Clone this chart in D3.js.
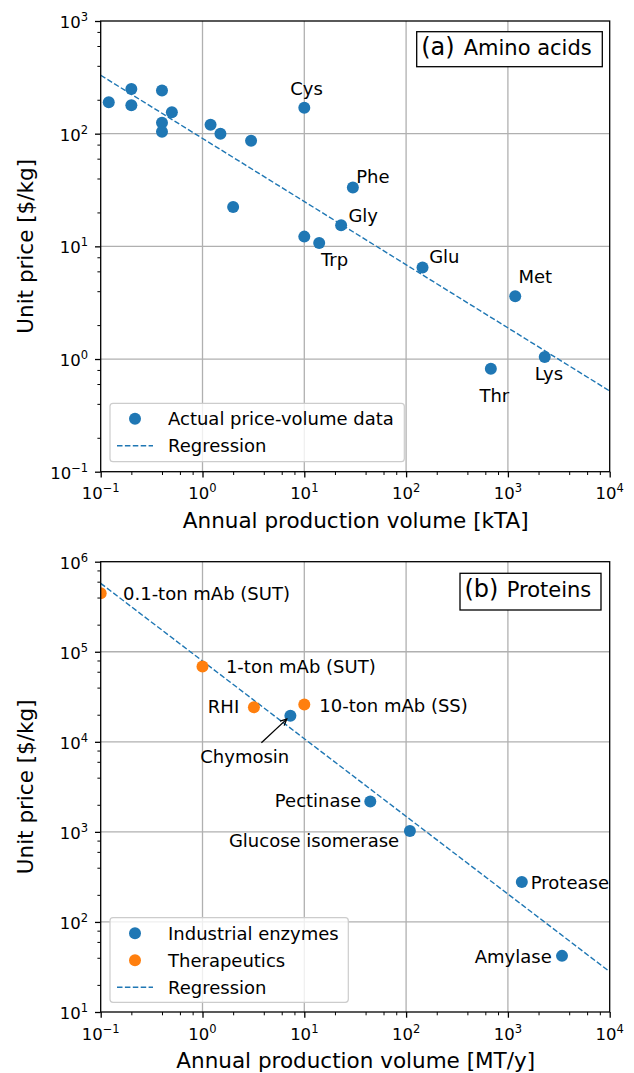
<!DOCTYPE html>
<meta charset="utf-8">
<title>Unit price vs annual production volume</title>
<style>
body { margin: 0; background: #fff; }
svg { font-family: 'DejaVu Sans', sans-serif; }
.grid line { stroke: #b0b0b0; stroke-width: 1.3px; }
.tick line { stroke: #000; }
.lbl { font-size: 18px; fill: #000; }
.ticklbl { font-size: 16.5px; fill: #000; }
.axlbl { font-size: 21.5px; fill: #000; }
</style>
<svg width="634" height="1073"></svg>
<script src="https://d3js.org/d3.v7.min.js"></script>
<script>

// ---- panel (a): amino acids, volume in kTA, price in $/kg
var aminoNames  = ["", "", "", "", "", "", "", "", "", "", "", "",
                   "Cys", "Trp", "Gly", "Phe", "Glu", "Met", "Lys", "Thr"];
var aminoVolume = [0.12, 0.2, 0.2, 0.4, 0.4, 0.4, 0.5, 1.2, 1.5, 3, 2, 10,
                   10, 14, 23, 30, 145, 1180, 2300, 680];
var aminoPrice  = [190, 249, 179, 242, 125, 104, 155, 120, 100, 86.5, 22.4, 12.2,
                   170, 10.7, 15.4, 33.3, 6.5, 3.6, 1.04, 0.82];
var aminoRegVolume = [0.1, 1e4];
var aminoRegPrice  = [330, 0.52];

// ---- panel (b): proteins, volume in MT/y, price in $/kg
var enzymeNames  = ["Chymosin", "Pectinase", "Glucose isomerase", "Protease", "Amylase"];
var enzymeVolume = [7.3, 44.5, 109, 1370, 3400];
var enzymePrice  = [19500, 2170, 1020, 277, 42];
var therapNames  = ["0.1-ton mAb (SUT)", "1-ton mAb (SUT)", "RHI", "10-ton mAb (SS)"];
var therapVolume = [0.1, 1, 3.2, 10];
var therapPrice  = [446000, 68400, 24200, 25900];
var proteinRegVolume = [0.1, 1e4];
var proteinRegPrice  = [575000, 28];

// tick exponents
var xExps  = [-1, 0, 1, 2, 3, 4];
var yExpsA = [-1, 0, 1, 2, 3];
var yExpsB = [1, 2, 3, 4, 5, 6];
var minorSubs = [2, 4, 6, 8];

// label offsets from the marker centre: [dx, dy, anchor]
var labelOffsets = {
  "Cys": [-14, -12.7, "start"], "Phe": [3.3, -4.3, "start"], "Gly": [7.3, -3.3, "start"],
  "Trp": [1.7, 23, "start"], "Glu": [6.6, -4, "start"], "Met": [3.3, -13, "start"],
  "Lys": [-10, 23.3, "start"], "Thr": [-11.4, 33.4, "start"],
  "0.1-ton mAb (SUT)": [22.3, 6.7, "start"], "1-ton mAb (SUT)": [23.4, 6, "start"],
  "RHI": [-14.7, 6, "end"], "10-ton mAb (SS)": [15, 7, "start"],
  "Chymosin": [-45.6, 47, "middle"], "Pectinase": [-9.3, 5.6, "end"],
  "Glucose isomerase": [-10.7, 16, "end"], "Protease": [9, 6.7, "start"],
  "Amylase": [-10.3, 6.7, "end"]
};

var blue = "#1f77b4", orange = "#ff7f0e";
var svg = d3.select("svg");
svg.append("rect").attr("width", 634).attr("height", 1073).attr("fill", "#fff");
var defs = svg.append("defs");

function supText(sel, e) {
  sel.append("tspan").text("10");
  sel.append("tspan").attr("dy", -7).style("font-size", "11.5px")
    .text(e < 0 ? "\u2212" + (-e) : String(e));
}

function drawPanel(o) {
  var g = svg.append("g");
  var x = d3.scaleLog().domain([0.1, 1e4]).range([o.left, o.right]);
  var y = d3.scaleLog().domain(o.yDomain).range([o.bottom, o.top]);
  var yExps = o.yExps;
  var xMaj = xExps.map(function(e) { return Math.pow(10, e); });
  var yMaj = yExps.map(function(e) { return Math.pow(10, e); });
  var xMin = [], yMin = [];
  xExps.slice(0, -1).forEach(function(e) { minorSubs.forEach(function(s) { xMin.push(s * Math.pow(10, e)); }); });
  yExps.slice(0, -1).forEach(function(e) { minorSubs.forEach(function(s) { yMin.push(s * Math.pow(10, e)); }); });

  defs.append("clipPath").attr("id", "clip-" + o.id).append("rect")
    .attr("x", o.left).attr("y", o.top).attr("width", o.right - o.left).attr("height", o.bottom - o.top);

  // grid
  var grid = g.append("g").attr("class", "grid");
  grid.selectAll(".gx").data(xMaj.slice(1, -1)).enter().append("line")
    .attr("x1", function(d) { return x(d); }).attr("x2", function(d) { return x(d); })
    .attr("y1", o.top).attr("y2", o.bottom);
  grid.selectAll(".gy").data(yMaj.slice(1, -1)).enter().append("line")
    .attr("y1", function(d) { return y(d); }).attr("y2", function(d) { return y(d); })
    .attr("x1", o.left).attr("x2", o.right);

  // ticks via d3 axes
  function ticks(axis, vals, size, w, tr) {
    var a = g.append("g").attr("transform", tr)
      .call(axis.tickValues(vals).tickSize(size).tickSizeOuter(0).tickFormat(""));
    a.select(".domain").remove();
    a.selectAll(".tick line").attr("stroke-width", w);
  }
  ticks(d3.axisBottom(x), xMaj, 5.7, 1.3, "translate(0," + o.bottom + ")");
  ticks(d3.axisBottom(x), xMin, 3.3, 1, "translate(0," + o.bottom + ")");
  ticks(d3.axisLeft(y), yMaj, 5.7, 1.3, "translate(" + o.left + ",0)");
  ticks(d3.axisLeft(y), yMin, 3.3, 1, "translate(" + o.left + ",0)");

  // tick labels
  xExps.forEach(function(e) {
    g.append("text").attr("class", "ticklbl").attr("text-anchor", "middle")
      .attr("x", x(Math.pow(10, e))).attr("y", o.bottom + 27.5).call(supText, e);
  });
  yExps.forEach(function(e) {
    g.append("text").attr("class", "ticklbl").attr("text-anchor", "end")
      .attr("x", o.left - 12.5).attr("y", y(Math.pow(10, e)) + 7).call(supText, e);
  });

  var plot = g.append("g").attr("clip-path", "url(#clip-" + o.id + ")");

  // regression
  var line = d3.line().x(function(d) { return x(d[0]); }).y(function(d) { return y(d[1]); });
  plot.append("path").datum(d3.zip(o.regX, o.regY)).attr("d", line)
    .attr("fill", "none").attr("stroke", blue).attr("stroke-width", 1.4)
    .attr("stroke-dasharray", "5.5,2.4");

  // points + labels
  o.series.forEach(function(s) {
    var pts = d3.zip(s.vol, s.price, s.names);
    plot.selectAll(null).data(pts).enter().append("circle")
      .attr("cx", function(d) { return x(d[0]); }).attr("cy", function(d) { return y(d[1]); })
      .attr("r", 6).attr("fill", s.color);
    g.selectAll(null).data(pts.filter(function(d) { return d[2]; })).enter().append("text")
      .attr("class", "lbl")
      .attr("x", function(d) { return x(d[0]) + labelOffsets[d[2]][0]; })
      .attr("y", function(d) { return y(d[1]) + labelOffsets[d[2]][1]; })
      .attr("text-anchor", function(d) { return labelOffsets[d[2]][2]; })
      .text(function(d) { return d[2]; });
  });

  if (o.arrow) {
    var ax = x(o.arrow[0]), ay = y(o.arrow[1]);
    var tx = ax - 29, ty = ay + 27;
    var ang = Math.atan2(ay - ty, ax - tx), hx = ax - 5 * Math.cos(ang), hy = ay - 5 * Math.sin(ang);
    g.append("line").attr("x1", tx).attr("y1", ty).attr("x2", hx).attr("y2", hy)
      .attr("stroke", "#000").attr("stroke-width", 1.3);
    var hl = 7;
    g.append("path").attr("fill", "none").attr("stroke", "#000").attr("stroke-width", 1.3)
      .attr("d", "M" + (hx - hl * Math.cos(ang - 0.45)) + "," + (hy - hl * Math.sin(ang - 0.45)) +
        "L" + hx + "," + hy + "L" + (hx - hl * Math.cos(ang + 0.45)) + "," + (hy - hl * Math.sin(ang + 0.45)));
  }

  // frame
  g.append("rect").attr("x", o.left).attr("y", o.top)
    .attr("width", o.right - o.left).attr("height", o.bottom - o.top)
    .attr("fill", "none").attr("stroke", "#000").attr("stroke-width", 1.3);

  // title box
  var tb = o.titleBox;
  g.append("rect").attr("x", tb.x).attr("y", tb.y).attr("width", tb.w).attr("height", tb.h)
    .attr("fill", "#fff").attr("stroke", "#000").attr("stroke-width", 1.3);
  g.append("text").attr("x", tb.x + 4.5).attr("y", tb.y + 23.5).style("font-size", "24px").text(tb.tag);
  g.append("text").attr("x", tb.x + tb.textDx).attr("y", tb.y + 23.5).style("font-size", "21px").text(tb.text);

  // legend
  var lg = o.legend;
  g.append("rect").attr("x", lg.x).attr("y", lg.y).attr("width", lg.w).attr("height", lg.h)
    .attr("rx", 3).attr("fill", "#fff").attr("fill-opacity", 0.8)
    .attr("stroke", "#cccccc").attr("stroke-width", 1.2);
  lg.items.forEach(function(it, i) {
    var cy = lg.y + 15.5 + i * 27;
    if (it.type === "dot") {
      g.append("circle").attr("cx", lg.x + 25).attr("cy", cy).attr("r", 6).attr("fill", it.color);
    } else {
      g.append("line").attr("x1", lg.x + 7).attr("x2", lg.x + 43).attr("y1", cy).attr("y2", cy)
        .attr("stroke", blue).attr("stroke-width", 1.4).attr("stroke-dasharray", "5.5,2.4");
    }
    g.append("text").attr("class", "lbl").attr("x", lg.x + 58).attr("y", cy + 6.3).text(it.label);
  });

  // axis labels
  g.append("text").attr("class", "axlbl").attr("text-anchor", "middle")
    .attr("x", (o.left + o.right) / 2 + 0.5).attr("y", o.bottom + 56).text(o.xLabel);
  g.append("text").attr("class", "axlbl").attr("text-anchor", "middle")
    .attr("transform", "translate(33," + ((o.top + o.bottom) / 2) + ") rotate(-90)")
    .text("Unit price [$/kg]");
}

drawPanel({
  id: "a", left: 100.7, right: 609.7, top: 21, bottom: 471.7,
  yDomain: [0.1, 1000], yExps: yExpsA,
  regX: aminoRegVolume, regY: aminoRegPrice,
  series: [{ vol: aminoVolume, price: aminoPrice, names: aminoNames, color: blue }],
  titleBox: { x: 416.7, y: 31.7, w: 185.6, h: 35, tag: "(a)", text: "Amino acids", textDx: 47 },
  legend: { x: 110, y: 403.3, w: 294.3, h: 58.4, items: [
    { type: "dot", color: blue, label: "Actual price-volume data" },
    { type: "line", label: "Regression" }] },
  xLabel: "Annual production volume [kTA]"
});

drawPanel({
  id: "b", left: 100.7, right: 609.7, top: 561.7, bottom: 1012,
  yDomain: [10, 1e6], yExps: yExpsB,
  regX: proteinRegVolume, regY: proteinRegPrice,
  series: [
    { vol: enzymeVolume, price: enzymePrice, names: enzymeNames, color: blue },
    { vol: therapVolume, price: therapPrice, names: therapNames, color: orange }],
  arrow: [enzymeVolume[0], enzymePrice[0]],
  titleBox: { x: 460, y: 573.3, w: 141, h: 36.7, tag: "(b)", text: "Proteins", textDx: 46.7 },
  legend: { x: 110, y: 917.7, w: 238.3, h: 84.6, items: [
    { type: "dot", color: blue, label: "Industrial enzymes" },
    { type: "dot", color: orange, label: "Therapeutics" },
    { type: "line", label: "Regression" }] },
  xLabel: "Annual production volume [MT/y]"
});

</script>
